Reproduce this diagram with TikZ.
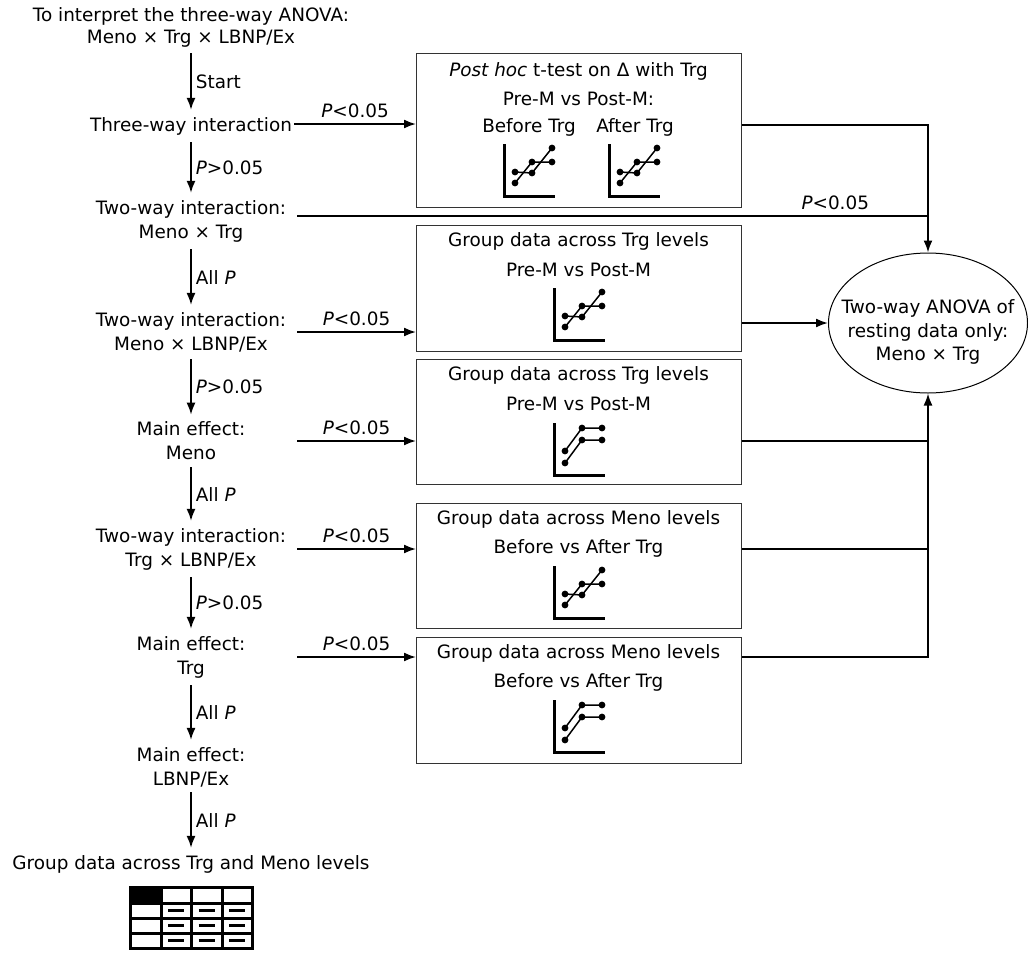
\documentclass[tikz,border=0pt]{standalone}
\usepackage{fontspec}
\setmainfont{DejaVu Sans}
\usetikzlibrary{arrows.meta,shapes.geometric}
\tikzset{
  txt/.style={align=center, inner sep=0pt},
  boxn/.style={draw=black!80, line width=1.2pt, inner sep=0pt},
  arr/.style={line width=1.8pt, -{Latex[length=12pt,width=9pt]}},
  ln/.style={line width=1.8pt},
  vlab/.style={right=4pt, midway, inner sep=0pt},
  plab/.style={above=5pt, inner sep=0pt},
  axisl/.style={line width=3pt, line join=miter},
  dl/.style={line width=1.5pt},
  pics/crossplot/.style={code={
    \draw[axisl] (0,-52) -- (0,0) -- (51,0);
    \draw[dl] (11,-13) -- (28,-34) -- (48,-34);
    \draw[dl] (11,-24) -- (28,-23) -- (48,-48);
    \foreach \p in {(11,-13),(28,-34),(48,-34),(11,-24),(28,-23),(48,-48)}
      \fill \p circle[radius=3.4pt];
  }},
  pics/parplot/.style={code={
    \draw[axisl] (0,-52) -- (0,0) -- (51,0);
    \draw[dl] (11,-12) -- (28,-35) -- (48,-35);
    \draw[dl] (11,-24) -- (28,-47) -- (48,-47);
    \foreach \p in {(11,-12),(28,-35),(48,-35),(11,-24),(28,-47),(48,-47)}
      \fill \p circle[radius=3.4pt];
  }}
}
\begin{document}
\begin{tikzpicture}[x=1pt,y=-1pt,font=\fontsize{18.4}{24}\selectfont]
\useasboundingbox (0,0) rectangle (1028,956);
\coordinate (lx) at (297,0);

% left column
\node[txt] (t0) at (191,27) {To interpret the three-way ANOVA:\\[-2pt]Meno × Trg × LBNP/Ex};
\node[txt] (n1) at (191,126) {Three-way interaction};
\node[txt] (n2) at (191,221) {Two-way interaction:\\Meno × Trg};
\node[txt] (n3) at (191,332) {Two-way interaction:\\Meno × LBNP/Ex};
\node[txt] (n4) at (191,441) {Main effect:\\Meno};
\node[txt] (n5) at (191,549) {Two-way interaction:\\Trg × LBNP/Ex};
\node[txt] (n6) at (191,657) {Main effect:\\Trg};
\node[txt] (n7) at (191,767) {Main effect:\\LBNP/Ex};
\node[txt] (n8) at (191,864) {Group data across Trg and Meno levels};

\draw[arr, shorten <=6pt, shorten >=7pt] (t0.south) -- (n1.north) node[vlab] {Start};
\draw[arr, shorten <=7pt, shorten >=7pt] (n1.south) -- (n2.north) node[vlab] {\textit{P}>0.05};
\draw[arr, shorten <=7pt, shorten >=7pt] (n2.south) -- (n3.north) node[vlab] {All \textit{P}};
\draw[arr, shorten <=7pt, shorten >=7pt] (n3.south) -- (n4.north) node[vlab] {\textit{P}>0.05};
\draw[arr, shorten <=7pt, shorten >=7pt] (n4.south) -- (n5.north) node[vlab] {All \textit{P}};
\draw[arr, shorten <=7pt, shorten >=7pt] (n5.south) -- (n6.north) node[vlab] {\textit{P}>0.05};
\draw[arr, shorten <=7pt, shorten >=7pt] (n6.south) -- (n7.north) node[vlab] {All \textit{P}};
\draw[arr, shorten <=5pt, shorten >=7pt] (n7.south) -- (n8.north) node[vlab] {All \textit{P}};

% right boxes
\node[boxn, anchor=north west, minimum width=325pt, minimum height=154pt] (b1) at (416,53) {};
\node[boxn, anchor=north west, minimum width=325pt, minimum height=126pt] (b2) at (416,225) {};
\node[boxn, anchor=north west, minimum width=325pt, minimum height=125pt] (b3) at (416,359) {};
\node[boxn, anchor=north west, minimum width=325pt, minimum height=125pt] (b4) at (416,503) {};
\node[boxn, anchor=north west, minimum width=325pt, minimum height=126pt] (b5) at (416,637) {};

\node[txt] (b1a) at (578.5,71) {\textit{Post hoc} t-test on Δ with Trg};
\node[txt] (b1b) at (578.5,99) {Pre-M vs Post-M:};
\node[txt] (b1c) at (529,127) {Before Trg};
\node[txt] (b1d) at (635,127) {After Trg};
\pic at (504,196) {crossplot};
\pic at (609,196) {crossplot};

\node[txt] (b2a) at (578.5,241) {Group data across Trg levels};
\node[txt] (b2b) at (578.5,270) {Pre-M vs Post-M};
\pic at (554,340) {crossplot};

\node[txt] (b3a) at (578.5,375) {Group data across Trg levels};
\node[txt] (b3b) at (578.5,404) {Pre-M vs Post-M};
\pic at (554,475) {parplot};

\node[txt] (b4a) at (578.5,519) {Group data across Meno levels};
\node[txt] (b4b) at (578.5,548) {Before vs After Trg};
\pic at (554,618) {crossplot};

\node[txt] (b5a) at (578.5,653) {Group data across Meno levels};
\node[txt] (b5b) at (578.5,682) {Before vs After Trg};
\pic at (554,752) {parplot};

% ellipse
\node[ellipse, draw, line width=1pt, minimum width=199pt, minimum height=140pt, inner sep=0pt] (ell) at (928,323) {};
\node[txt, font=\fontsize{18.4}{23.5}\selectfont] (ellt) at (928,332) {Two-way ANOVA of\\resting data only:\\Meno × Trg};

% horizontal connectors
\draw[arr] ([yshift=2pt]n1.east) ++(2pt,0) -- ([yshift=2pt]n1.east -| b1.west) node[plab, midway] {\textit{P}<0.05};
\draw[arr] (n3 -| lx) -- (n3 -| b2.west) node[plab, midway] {\textit{P}<0.05};
\draw[arr] (n4 -| lx) -- (n4 -| b3.west) node[plab, midway] {\textit{P}<0.05};
\draw[arr] (n5 -| lx) -- (n5 -| b4.west) node[plab, midway] {\textit{P}<0.05};
\draw[arr] (n6 -| lx) -- (n6 -| b5.west) node[plab, midway] {\textit{P}<0.05};

\draw[arr] ([yshift=6pt]b1.east) -| (ell.north);
\draw[ln] ([yshift=5pt]n2.center -| lx) -- ([yshift=5pt]n2.center -| ell.north) node[plab, pos=0.853] {\textit{P}<0.05};
\draw[arr] (b2.east |- ell.west) -- (ell.west);
\draw[ln] (b3.east |- n4) -- (n4 -| ell.south);
\draw[ln] (b4.east |- n5) -- (n5 -| ell.south);
\draw[arr] (b5.east |- n6) -| (ell.south);

% table
\fill (130,887) rectangle (161,903);
\draw[line width=3pt] (130,887) rectangle (252,948);
\foreach \x in {161,191,222} \draw[line width=3pt] (\x,887) -- (\x,948);
\foreach \y in {903,918,933} \draw[line width=3pt] (130,\y) -- (252,\y);
\foreach \cx in {176,206.5,237}
  \foreach \cy in {910.5,925.5,940.5}
    \draw[line width=3pt] (\cx-8,\cy) -- (\cx+8,\cy);
\end{tikzpicture}
\end{document}
